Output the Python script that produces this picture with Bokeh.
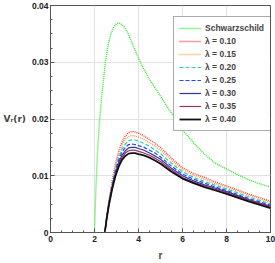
from bokeh.plotting import figure
from bokeh.models import Range1d, Legend, LegendItem, Label, FixedTicker
from bokeh.embed import file_html
from bokeh.resources import INLINE

# Schwarzschild potential
r_schw = [2.0, 2.02, 2.05, 2.08, 2.12, 2.17, 2.23, 2.3, 2.4, 2.5, 2.62, 2.75, 2.9,
          3.05, 3.2, 3.35, 3.5, 3.75, 4.0, 4.25, 4.5, 5.0, 5.5, 6.0, 6.5, 7.0, 7.5,
          8.0, 8.5, 9.0, 9.5, 10.0]
v_schw = [0, .0025, .0062, .0093, .0128, .0163, .0196, .0229, .0266, .0302, .0330,
          .0351, .0364, .0369, .0368, .0362, .0353, .0330, .0307, .0287, .0270, .0240,
          .0210, .0181, .0158, .0138, .0122, .0112, .0102, .0093, .0086, .0080]

# lambda-corrected potentials
r_lam = [2.47, 2.55, 2.65, 2.8, 2.95, 3.1, 3.25, 3.4, 3.55, 3.7, 3.85, 4.0, 4.25,
         4.5, 4.75, 5.0, 5.5, 6.0, 6.5, 7.0, 7.5, 8.0, 9.0, 10.0]
v_l010 = [0, .0027, .0055, .0090, .0120, .0143, .0159, .0170, .0176, .0178, .0177, .0175,
          .0170, .0164, .0157, .0150, .0131, .0114, .0104, .0097, .0089, .0082, .0068, .0055]
v_l015 = [0, .0026, .0054, .0088, .0116, .0138, .0153, .0164, .0169, .0171, .0170, .0168,
          .0164, .0158, .0152, .0145, .0127, .0111, .0101, .0094, .0086, .0080, .0066, .0053]
v_l020 = [0, .0025, .0052, .0085, .0112, .0132, .0147, .0156, .0162, .0163, .0163, .0161,
          .0157, .0152, .0145, .0139, .0122, .0107, .0097, .0090, .0083, .0077, .0063, .0050]
v_l025 = [0, .0025, .0050, .0082, .0108, .0127, .0141, .0150, .0155, .0156, .0155, .0153,
          .0150, .0145, .0140, .0133, .0117, .0103, .0094, .0087, .0080, .0074, .0060, .0048]
v_l030 = [0, .0024, .0049, .0080, .0104, .0123, .0136, .0144, .0149, .0150, .0150, .0148,
          .0145, .0140, .0135, .0129, .0113, .0100, .0091, .0084, .0078, .0072, .0058, .0046]
v_l035 = [0, .0023, .0048, .0078, .0102, .0119, .0132, .0140, .0144, .0145, .0145, .0143,
          .0140, .0136, .0131, .0125, .0110, .0097, .0089, .0082, .0076, .0070, .0057, .0045]
v_l040 = [0, .0023, .0047, .0076, .0099, .0116, .0128, .0135, .0139, .0140, .0140, .0138,
          .0136, .0132, .0127, .0121, .0107, .0095, .0087, .0080, .0074, .0068, .0055, .0043]

series_labels = ["Schwarzschild", "λ = 0.10", "λ = 0.15", "λ = 0.20", "λ = 0.25",
                 "λ = 0.30", "λ = 0.35", "λ = 0.40"]
x_ticks = [0, 2, 4, 6, 8, 10]
y_ticks = [0, 0.01, 0.02, 0.03, 0.04]
y_tick_labels = ["0", "0.01", "0.02", "0.03", "0.04"]
y_axis_title = "Vᵣ(r)"
x_axis_title = "r"

p = figure(width=275, height=263, x_range=Range1d(0, 10), y_range=Range1d(0, 0.04),
           output_backend="svg", toolbar_location=None,
           min_border_left=42, min_border_right=5, min_border_top=5, min_border_bottom=30)

p.outline_line_color = "#555555"
p.outline_line_width = 1

p.xaxis.ticker = FixedTicker(ticks=x_ticks, minor_ticks=[i * 0.5 for i in range(21)])
p.yaxis.ticker = FixedTicker(ticks=y_ticks, minor_ticks=[i * 0.0025 for i in range(17)])
p.yaxis.major_label_overrides = {t: l for t, l in zip(y_ticks, y_tick_labels)}
p.xaxis.major_label_overrides = {t: str(t) for t in x_ticks}

for ax in (p.xaxis[0], p.yaxis[0]):
    ax.axis_line_color = "#555555"
    ax.major_tick_line_color = "#555555"
    ax.minor_tick_line_color = "#555555"
    ax.major_tick_in = 4
    ax.major_tick_out = 0
    ax.minor_tick_in = 2
    ax.minor_tick_out = 0
    ax.major_label_text_font = "Liberation Sans"
    ax.major_label_text_font_style = "bold"
    ax.major_label_text_font_size = "8.5px"
    ax.major_label_text_color = "#222222"
    ax.major_label_standoff = 2

p.xaxis.axis_label = x_axis_title
p.xaxis.axis_label_text_font = "Liberation Sans"
p.xaxis.axis_label_text_font_style = "bold"
p.xaxis.axis_label_text_font_size = "10px"
p.xaxis.axis_label_standoff = 5
p.xaxis.major_label_standoff = 3

# horizontal y-axis title
ya = p.yaxis[0]
ya.axis_label = y_axis_title
ya.axis_label_text_font = "DejaVu Sans"
ya.axis_label_text_font_style = "bold"
ya.axis_label_text_font_size = "9px"
ya.axis_label_standoff = 3
try:
    ya.axis_label_orientation = "horizontal"
except Exception:
    ya.axis_label = None
    p.add_layout(Label(x=2, y=135, x_units="screen", y_units="screen",
                       text=y_axis_title, text_font="DejaVu Sans",
                       text_font_style="bold", text_font_size="9px",
                       text_baseline="middle", text_align="left"))

p.xgrid.ticker = FixedTicker(ticks=x_ticks)
p.ygrid.ticker = FixedTicker(ticks=y_ticks)
p.grid.grid_line_color = "#e2e2e2"
p.grid.grid_line_width = 1

r0 = p.line(r_schw, v_schw, line_color="#22ee22", line_width=1.4, line_dash="1 1")
r1 = p.line(r_lam, v_l010, line_color="#ff3b3b", line_width=1.4, line_dash="1 1")
r2 = p.line(r_lam, v_l015, line_color="#ffa040", line_width=1.4, line_dash="1 1")
r3 = p.line(r_lam, v_l020, line_color="#22cccc", line_width=1.2, line_dash="4 2")
r4 = p.line(r_lam, v_l025, line_color="#2244ff", line_width=1.2, line_dash="4 2")
r5 = p.line(r_lam, v_l030, line_color="#333399", line_width=1.2)
r6 = p.line(r_lam, v_l035, line_color="#993366", line_width=1.2)
r7 = p.line(r_lam, v_l040, line_color="#111111", line_width=1.8)

items = [LegendItem(label=lab, renderers=[rr]) for lab, rr in
         zip(series_labels, [r0, r1, r2, r3, r4, r5, r6, r7])]
legend = Legend(items=items, location=(123, 101))
legend.label_text_font = "Liberation Sans"
legend.label_text_font_style = "bold"
legend.label_text_font_size = "8.5px"
legend.glyph_width = 22
legend.glyph_height = 12
legend.label_height = 12
legend.label_width = 67
legend.spacing = 1
legend.padding = 5
legend.label_standoff = 4
legend.border_line_color = "#555555"
legend.border_line_width = 1
legend.background_fill_alpha = 1
p.add_layout(legend, "center")

open("out.html", "w").write(file_html(p, INLINE))
